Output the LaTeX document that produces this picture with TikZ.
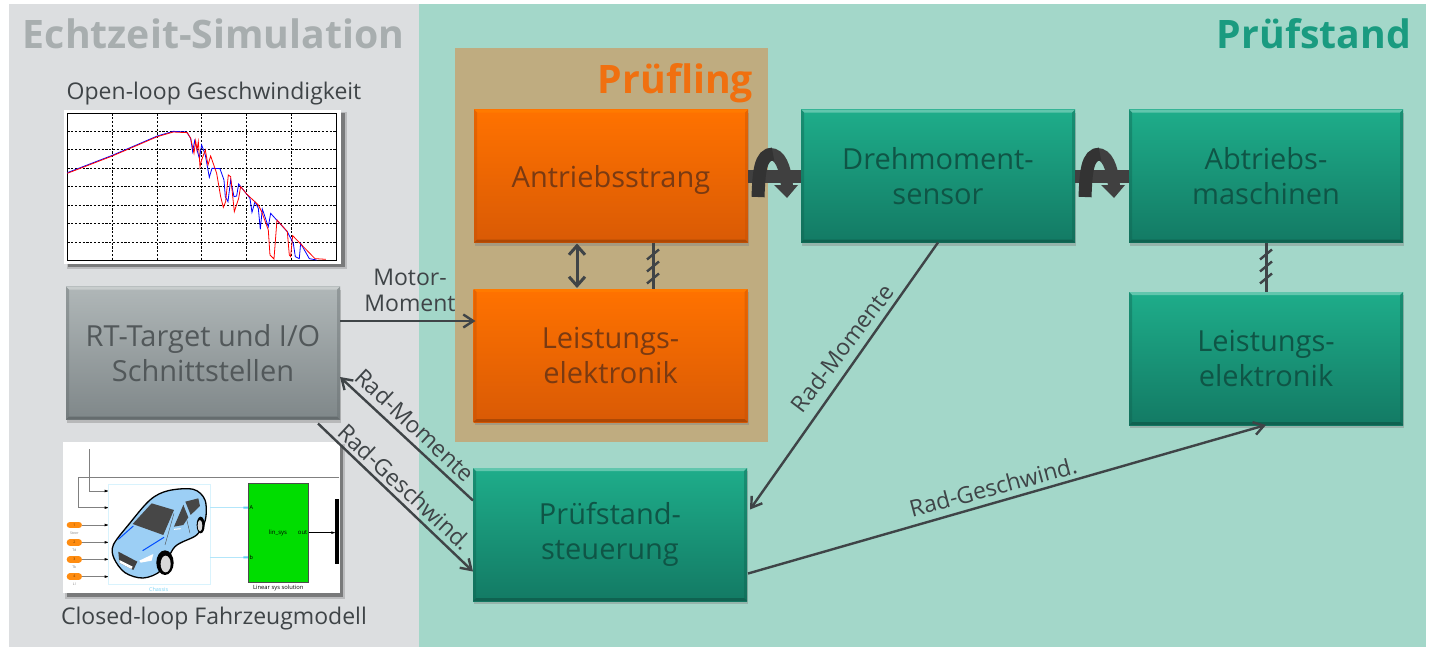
\documentclass[tikz,border=0pt]{standalone}
\usepackage{fontspec}
\setmainfont{Open Sans}
\usetikzlibrary{arrows.meta,calc,shadows}
\definecolor{bggrey}{HTML}{DCDEE0}
\definecolor{bggreen}{HTML}{A3D7C9}
\definecolor{bgdut}{HTML}{BFAC80}
\definecolor{linec}{HTML}{3F4447}
\definecolor{ttgrey}{HTML}{A8AEAF}
\definecolor{ttgreen}{HTML}{1A9B80}
\definecolor{ttorange}{HTML}{F07010}
\definecolor{orange1}{HTML}{FF7200}
\definecolor{orange2}{HTML}{D95A05}
\definecolor{green1}{HTML}{1EAD8A}
\definecolor{green2}{HTML}{137A64}
\definecolor{grey1}{HTML}{B0B7B8}
\definecolor{grey2}{HTML}{7F8789}
\definecolor{txorange}{HTML}{7A3A12}
\definecolor{txgreen}{HTML}{0F5546}
\definecolor{txgrey}{HTML}{52585A}
\definecolor{carblue}{HTML}{9CCFF5}
\definecolor{greensim}{HTML}{00DD00}
\definecolor{portor}{HTML}{FF8C10}
\tikzset{
  x=1pt,y=-1pt,
  every node/.style={font=\fontsize{23}{23}\selectfont,text=linec,inner sep=0pt,outer sep=0pt,align=center},
  basebox/.style n args={3}{rectangle,minimum width=274pt,minimum height=133pt,font=\fontsize{29}{35}\selectfont,
    drop shadow={shadow xshift=1pt,shadow yshift=-3pt,opacity=.4},
    path picture={
      \fill[#1] (path picture bounding box.north west) -- (path picture bounding box.north east) -- ++(-3,3) -- ($(path picture bounding box.north west)+(3,3)$) -- cycle;
      \fill[#2] (path picture bounding box.south west) -- (path picture bounding box.south east) -- ++(-3,-3) -- ($(path picture bounding box.south west)+(3,-3)$) -- cycle;
      \fill[#3] (path picture bounding box.north west) -- ++(3,3) -- ($(path picture bounding box.south west)+(3,-3)$) -- (path picture bounding box.south west) -- cycle;
      \fill[#3] (path picture bounding box.north east) -- ++(-3,3) -- ($(path picture bounding box.south east)+(-3,-3)$) -- (path picture bounding box.south east) -- cycle;
    }},
  orangebox/.style={basebox={orange!60!orange1}{orange2!80!black}{orange2!90!black,opacity=.4},top color=orange1,bottom color=orange2,text=txorange},
  greenbox/.style={basebox={green1!70!white}{green2!80!black}{green2!80!black,opacity=.4},top color=green1,bottom color=green2,text=txgreen},
  greybox/.style={basebox={grey1!70!white}{grey2!80!black}{grey2!80!black,opacity=.4},top color=grey1,bottom color=grey2,text=txgrey},
  conn/.style={draw=linec,line width=2.4pt,-{Straight Barb[length=10pt,width=13pt,line width=2.4pt]}},
  small/.style={draw=linec,line width=3pt},
  title/.style={font=\fontsize{39.2}{39.2}\selectfont\bfseries},
  caption/.style={font=\fontsize{23}{23}\selectfont},
  tiny/.style={font=\fontsize{3.5}{4}\selectfont,text=#1},
  tiny/.default=gray,
  gridl/.style={black,line width=.7pt,dash pattern=on 2.2pt off 1.6pt},
}
\begin{document}
\begin{tikzpicture}
\useasboundingbox (0,0) rectangle (1435,648);
\fill[white] (0,0) rectangle (1435,648);
\fill[bggrey] (9,4) rectangle (419,647);
\fill[bggreen] (419,4) rectangle (1426,647);
\fill[bgdut] (455,48) rectangle (768,442);
% titles
\node[title,text=ttgrey,anchor=base west] (ttecht) at (23,48) {Echtzeit-Simulation};
\node[title,text=ttgreen,anchor=base east] (ttpruef) at (1411,48) {Prüfstand};
\node[title,text=ttorange,anchor=base east] (ttling) at (753,93) {Prüfling};
% captions
\node[caption,anchor=base] (capopen) at (214,99) {Open-loop Geschwindigkeit};
\node[caption,anchor=base] (capclosed) at (214,624) {Closed-loop Fahrzeugmodell};
% plot
\begin{scope}[shift={(50,70)},x=.3333pt,y=-.3333pt]
\fill[black,opacity=.15] (50,126) rectangle (890,597);
\fill[black,opacity=.35] (54,130) rectangle (886,592);
\fill[white] (42,121) rectangle (872,581);
\foreach \yy in {184,238,295,349,406,460,517} \draw[gridl] (52,\yy) -- (860,\yy);
\foreach \xx in {187,322,455,590,725} \draw[gridl] (\xx,130) -- (\xx,571);
\draw[black,line width=.8pt] (52,130) rectangle (860,571);
\draw[blue,line width=.8pt] (52,308) -- (187,256) -- (322,198) -- (370,184) -- (410,186) -- (422,205) -- (428,245) -- (434,212) -- (444,250) -- (448,265) -- (455,225) -- (466,255) -- (478,322) -- (486,295) -- (510,296) -- (522,330) -- (526,380) -- (534,395) -- (542,330) -- (552,380) -- (560,378) -- (566,342) -- (590,372) -- (600,385) -- (606,427) -- (615,395) -- (625,415) -- (631,478) -- (637,417) -- (655,470) -- (662,430) -- (680,450) -- (712,485) -- (730,520) -- (736,560) -- (748,566) -- (752,520) -- (778,566) -- (800,570);
\draw[red,line width=.8pt] (52,310) -- (187,258) -- (322,200) -- (370,186) -- (412,188) -- (422,205) -- (432,250) -- (437,212) -- (441,240) -- (445,215) -- (450,290) -- (455,270) -- (466,240) -- (474,285) -- (482,258) -- (500,310) -- (512,380) -- (520,412) -- (527,395) -- (535,315) -- (542,320) -- (553,425) -- (566,385) -- (572,350) -- (590,372) -- (625,405) -- (635,425) -- (655,480) -- (660,555) -- (672,567) -- (681,450) -- (712,485) -- (718,555) -- (722,560) -- (728,497) -- (795,566) -- (828,568);
\end{scope}
% simulink picture
\begin{scope}[shift={(50,430)},x=.3333pt,y=-.3333pt]
\fill[black,opacity=.15] (46,42) rectangle (884,508);
\fill[black,opacity=.35] (50,46) rectangle (880,502);
\fill[white] (40,35) rectangle (870,490);
\draw[gray,line width=.6pt] (118,58) -- (118,183) -- (170,183);
\draw[gray,line width=.6pt] (868,143) -- (85,143) -- (85,233) -- (170,233);
\foreach \yy/\nn/\lab in {285/1/Steer,337/2/Td,388/3/Tb,440/4/Ll}{
  \draw[gray,line width=.6pt] (95,\yy) -- (170,\yy);
  \fill[black] (164,\yy-4) -- (176,\yy) -- (164,\yy+4) -- cycle;
  \draw[portor,line width=6.6pt,line cap=round] (60,\yy) -- (86,\yy);
  \node[tiny=black!60!orange] at (73,\yy) {\nn};
  \node[tiny] at (73,\yy+24) {\lab};
}
\foreach \yy in {183,233}{\fill[black] (164,\yy-4) -- (176,\yy) -- (164,\yy+4) -- cycle;}
\draw[cyan!15,line width=.5pt] (176,162) rectangle (480,462);
\draw[cyan!30,line width=.5pt] (480,233) -- (594,233) (480,382) -- (594,382);
\fill[cyan!60] (580,230) rectangle (594,236) (580,379) rectangle (594,385);
\node[tiny=cyan!50] at (326,477) {\fontsize{5.5}{5.5}\selectfont Chassis};
% car
\draw[black,line width=1.3pt,fill=carblue] plot[smooth cycle,tension=.55] coordinates {(190,345) (235,285) (300,210) (355,182) (430,178) (465,210) (466,270) (440,315) (375,350) (335,420) (280,444) (225,428) (192,385)};
\fill[black!72] (248,282) -- (305,220) -- (372,240) -- (340,315) -- cycle;
\fill[black!72] (372,290) -- (400,225) -- (415,262) -- (400,285) -- cycle;
\fill[black!72] (406,215) -- (445,205) -- (450,228) -- (422,255) -- cycle;
\fill[black!75] (205,365) -- (262,395) -- (250,420) -- (208,398) -- cycle;
\fill[white] (208,390) -- (248,410) -- (244,417) -- (208,398) -- cycle;
\fill[white] (268,392) -- (310,372) -- (305,392) -- (272,398) -- cycle;
\fill[black] (345,398) ellipse (26 and 37);
\fill[black!15] (347,402) ellipse (15 and 25);
\fill[black] (452,285) ellipse (12 and 25);
\fill[black!15] (450,287) ellipse (7 and 17);
\draw[blue!70!cyan,line width=1pt] (205,328) -- (250,288) (278,362) -- (342,322);
\draw[white,line width=1pt] (372,298) -- (392,296);
\draw[black!70,line width=.4pt] (372,250) -- (345,345) (400,225) -- (420,310);
% sys block
\fill[greensim] (594,160) rectangle (776,456);
\draw[black!70,line width=.5pt] (594,160) rectangle (776,456);
\node[tiny=black] at (684,308) {\fontsize{6}{6}\selectfont lin\_sys};
\node[tiny=black] at (758,308) {\fontsize{6}{6}\selectfont out};
\node[tiny=black] at (604,234) {\fontsize{5.5}{5.5}\selectfont A};
\node[tiny=black] at (604,383) {\fontsize{5.5}{5.5}\selectfont b};
\node[tiny=black] at (685,473) {\fontsize{5.8}{5.8}\selectfont Linear sys solution};
\draw[black,line width=.5pt] (776,308) -- (850,308);
\fill[black] (844,304) -- (856,308) -- (844,312) -- cycle;
\fill[black] (855,207) rectangle (868,403);
\end{scope}
% boxes
\node[orangebox] (antr) at (611,176) {\raisebox{-11pt}[0pt][0pt]{Antriebsstrang}};
\node[orangebox] (leist) at (610.5,355.5) {Leistungs-\\elektronik};
\node[greenbox] (dreh) at (938,176) {Drehmoment-\\sensor};
\node[greenbox] (abtr) at (1266,176) {Abtriebs-\\maschinen};
\node[greenbox] (leistb) at (1266,358.5) {Leistungs-\\elektronik};
\node[greenbox] (steu) at (610,534.5) {Prüfstand-\\steuerung};
\node[greybox] (rt) at (203,353) {RT-Target und I/O\\Schnittstellen};
% shafts
\foreach \ox/\aa/\bb in {0/antr/dreh,327/dreh/abtr}{
  \begin{scope}[xshift=\ox pt]
  \draw[line width=12pt,black!75,line cap=butt] (770,154) .. controls (780,154) and (785,166) .. (787,186);
  \fill[black!75] (774,185) -- (798,185) -- (787,198) -- cycle;
  \end{scope}
  \draw[line width=13pt,black!75] (\aa.east) -- (\bb.west);
  \begin{scope}[xshift=\ox pt]
  \draw[line width=13pt,black!80,line cap=butt] (758,197) .. controls (759,172) and (760,154) .. (773,154);
  \end{scope}
}
% links in DUT
\draw[small,{Straight Barb[length=9pt,width=16pt,line width=3pt]}-{Straight Barb[length=9pt,width=16pt,line width=3pt]}] ($(antr.south)+(-34,1)$) -- ($(leist.north)+(-33.5,-1)$);
\draw[small] ($(antr.south)+(42,0)$) coordinate (bkt) -- ($(leist.north)+(42.5,0)$);
\foreach \dy in {0,12,24} \draw[small,line width=2.4pt] ($(bkt)+(-6,17+\dy)$) -- ($(bkt)+(6,7+\dy)$);
\draw[small] (abtr.south) coordinate (bkr) -- (leistb.north);
\foreach \dy in {0,12,24} \draw[small,line width=2.4pt] ($(bkr)+(-6,17+\dy)$) -- ($(bkr)+(6,7+\dy)$);
% connectors
\draw[conn] ($(rt.east)+(0,-32)$) -- ($(leist.west)+(2,-34.5)$);
\node[anchor=base] (lblmotor) at (410,285) {Motor-};
\node[anchor=base] (lblmoment) at (410,311) {Moment};
\draw[conn] ($(steu.west)+(0,-34)$) -- ($(rt.east)+(0,24)$);
\draw[conn] ($(rt.south)+(115,4)$) -- ($(steu.west)+(0,37)$);
\draw[conn] (dreh.south) -- ($(steu.east)+(3,-25)$);
\draw[conn] ($(steu.east)+(1,39)$) -- (leistb.south);
\node[rotate=-43] (lblrm) at (415,425) {Rad-Momente};
\node[rotate=-43] (lblrg) at (405,487) {Rad-Geschwind.};
\node[rotate=53] (lblrmr) at (842,348) {Rad-Momente};
\node[rotate=15] (lblrgr) at (993,487) {Rad-Geschwind.};
\end{tikzpicture}
\end{document}
